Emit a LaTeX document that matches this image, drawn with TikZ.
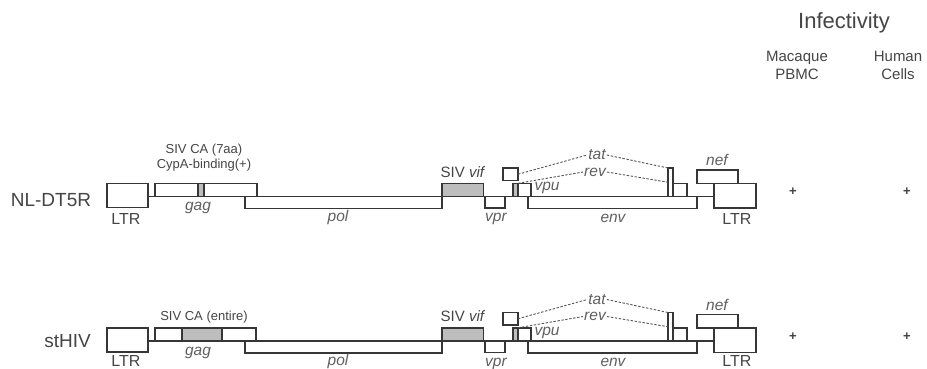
\documentclass[tikz,border=0pt]{standalone}
\usepackage{fontspec}
\setmainfont{Liberation Sans}
\definecolor{linec}{HTML}{363636}
\definecolor{txtc}{HTML}{454545}
\definecolor{labc}{HTML}{606060}
\definecolor{dashcol}{HTML}{555555}
\definecolor{fillc}{HTML}{BDBDBD}
\tikzset{
 gbox/.style={draw=linec,line width=1.5pt,fill=white,rectangle,inner sep=0pt,outer sep=0pt},
 grayfill/.style={fill=fillc},
 gline/.style={draw=linec,line width=1.5pt},
 dashc/.style={draw=dashcol,line width=0.9pt,dash pattern=on 2.4pt off 1.6pt},
 lab/.style={text=labc,font=\fontsize{15.5}{15.5}\selectfont\itshape,inner sep=1pt},
 ltrlab/.style={text=txtc,font=\fontsize{16}{16}\selectfont,inner sep=0pt},
 rowname/.style={text=txtc,font=\fontsize{19}{19}\selectfont,inner sep=0pt},
 smalltxt/.style={text=txtc,font=\fontsize{13}{15}\selectfont,align=center,inner sep=0pt},
 sivlab/.style={text=txtc,font=\fontsize{15}{15}\selectfont,inner sep=0pt},
 headtxt/.style={text=txtc,font=\fontsize{15}{18}\selectfont,align=center,inner sep=0pt},
 titletxt/.style={text=txtc,font=\fontsize{22}{22}\selectfont,inner sep=0pt},
 plustxt/.style={text=txtc,font=\fontsize{13}{13}\selectfont\bfseries,inner sep=0pt},
}
\newcommand\gbx[6][]{\node[gbox,#1,minimum width={#4-#2},minimum height={#5-#3}] (#6) at ({(#2+#4)/2},{(#3+#5)/2}) {};}
\newcommand\commonrow[2]{%
 \gbx{107}{183.5}{148}{207.5}{#1ltrl}
 \gbx{245}{196.5}{442}{208.5}{#1pol}
 \gbx[grayfill]{442}{183.3}{483.3}{196.5}{#1vif}
 \gbx{485}{196.5}{505}{208}{#1vpr}
 \gbx{503}{168}{518}{180.5}{#1tat1}
 \gbx{528}{196.5}{697}{208.5}{#1env}
 \gbx[grayfill]{513}{183.3}{518}{196.5}{#1rev1}
 \gbx{518}{183.3}{531}{196.5}{#1vpu}
 \gbx{668}{183.3}{687}{196.5}{#1rev2}
 \gbx{668}{168}{673}{196.5}{#1tat2}
 \gbx{697}{170}{738}{183.3}{#1nef}
 \gbx{714}{183.3}{756}{208}{#1ltrr}
 \node[ltrlab] (#1ltrllab) at (126,#2) {LTR};
 \node[ltrlab] (#1ltrrlab) at (737,#2) {LTR};
 \node[lab] (#1gaglab) at (198,208) {gag};
 \node[lab] (#1pollab) at (338,217) {pol};
 \node[lab] (#1vprlab) at (496,219) {vpr};
 \node[lab] (#1envlab) at (613,218) {env};
 \node[lab] (#1vpulab) at (547,188) {vpu};
 \node[lab] (#1neflab) at (717,160) {nef};
 \node[sivlab] (#1viflab) at (463,172) {SIV \textit{vif}};
 \node[lab] (#1tatl) at (597,155) {tat};
 \node[lab] (#1revl) at (595,172) {rev};
 \draw[dashc] (#1tat1.east) -- (#1tatl.west);
 \draw[dashc] (#1tatl.east) -- (#1tat2.north west);
 \draw[dashc] (#1vpu.north west) -- (#1revl.west);
 \draw[dashc] (#1revl.east) -- (#1tat2.west);
 \node[plustxt] (#1p1) at (793,192) {+};
 \node[plustxt] (#1p2) at (907,192) {+};
}
\begin{document}
\begin{tikzpicture}[x=1pt,y=-1pt]
\useasboundingbox (0,0) rectangle (927,369);
\clip (0,0) rectangle (927,369);
\fill[white] (0,0) rectangle (927,369);
% header
\node[titletxt] (title) at (844,23) {Infectivity};
\node[headtxt] (mac) at (797,65) {Macaque\\PBMC};
\node[headtxt] (hum) at (898,65) {Human\\Cells};
% row 1
\node[rowname] (r1) at (51,200) {NL-DT5R};
\gbx{155}{183.3}{198}{196.5}{agag1}
\gbx[grayfill]{198}{183.3}{204}{196.5}{agagc}
\gbx{204}{183.3}{257}{196.5}{agag2}
\commonrow{a}{219}
\draw[gline] (altrl.east |- agag1.south) -- (altrr.west |- agag1.south);
\node[smalltxt] (acap) at (204,157.5) {SIV CA (7aa)\\CypA-binding(+)};
% row 2
\begin{scope}[shift={(0,144.5)}]
\node[rowname] (r2) at (67.5,196.5) {stHIV};
\gbx{155}{183.3}{182}{196.5}{bgag1}
\gbx[grayfill]{182}{183.3}{222}{196.5}{bgagc}
\gbx{222}{183.3}{256}{196.5}{bgag2}
\commonrow{b}{216.5}
\draw[gline] (bltrl.east |- bgag1.south) -- (bltrr.west |- bgag1.south);
\node[smalltxt] (bcap) at (204,172.5) {SIV CA (entire)};
\end{scope}
\end{tikzpicture}
\end{document}
